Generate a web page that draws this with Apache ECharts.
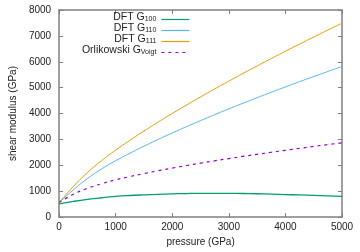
<!DOCTYPE html>
<html>
<head>
<meta charset="utf-8">
<script src="https://cdn.jsdelivr.net/npm/echarts@6/dist/echarts.min.js"></script>
<style>html,body{margin:0;padding:0;background:#fff}#c{width:360px;height:252px}</style>
</head>
<body>
<div id="c"></div>
<script>
const pressure = [0, 250, 500, 750, 1000, 1250, 1500, 1750, 2000, 2250, 2500, 2750, 3000, 3250, 3500, 3750, 4000, 4250, 4500, 4750, 5000];
const g100   = [510, 605, 685, 748, 800, 835, 860, 880, 898, 910, 918, 920, 918, 912, 902, 888, 872, 855, 838, 820, 803];
const g110   = [560, 1050, 1490, 1860, 2180, 2467, 2740, 3000, 3251, 3492, 3728, 3957, 4181, 4399, 4613, 4824, 5029, 5232, 5431, 5627, 5820];
const g111   = [560, 1180, 1720, 2180, 2590, 2967, 3326, 3672, 4005, 4328, 4644, 4953, 5254, 5550, 5840, 6126, 6408, 6683, 6956, 7225, 7490];
const gVoigt = [560, 880, 1110, 1290, 1440, 1566, 1682, 1791, 1894, 1992, 2085, 2175, 2261, 2345, 2426, 2505, 2581, 2656, 2730, 2801, 2867];
const seriesNames = ['DFT G100', 'DFT G110', 'DFT G111', 'Orlikowski GVoigt'];
const legendLabels = {
  'DFT G100': '{m|DFT G}{s|100}',
  'DFT G110': '{m|DFT G}{s|110}',
  'DFT G111': '{m|DFT G}{s|111}',
  'Orlikowski GVoigt': '{m|Orlikowski G}{s|Voigt}'
};
const xTicks = {min: 0, max: 5000, interval: 1000};
const yTicks = {min: 0, max: 8000, interval: 1000};

const FONT = 'Liberation Sans';
const axisCol = '#808080';
function pairs(ys) { return pressure.map((p, i) => [p, ys[i]]); }

const baseAxis = (t) => ({
  type: 'value', min: t.min, max: t.max, interval: t.interval,
  axisLine: {show: true, onZero: false, lineStyle: {color: axisCol, width: 1.5}},
  axisTick: {show: true, inside: true, length: 4, lineStyle: {color: axisCol, width: 1}},
  splitLine: {show: false}
});

const chart = echarts.init(document.getElementById('c'), null, {renderer: 'canvas'});
chart.setOption({
  animation: false,
  backgroundColor: '#fff',
  grid: {left: 55, right: 18, top: 10, bottom: 33},
  legend: {
    orient: 'vertical', align: 'right', right: 170, top: 12, padding: 0,
    itemGap: -4, itemWidth: 28, itemHeight: 14,
    data: seriesNames,
    formatter: n => legendLabels[n],
    itemStyle: {opacity: 0},
    lineStyle: {width: 1.2},
    textStyle: {
      fontFamily: FONT, color: '#222',
      rich: {
        m: {fontFamily: FONT, fontSize: 10.5, lineHeight: 10, padding: [0, 0, 4, 0], color: '#222'},
        s: {fontFamily: FONT, fontSize: 7, lineHeight: 6, verticalAlign: 'bottom', padding: [0, 0, 2, 0], color: '#222'}
      }
    }
  },
  xAxis: [
    Object.assign(baseAxis(xTicks), {
      position: 'bottom',
      name: 'pressure (GPa)', nameLocation: 'middle', nameGap: 17,
      nameTextStyle: {fontFamily: FONT, fontSize: 10, color: '#222'},
      axisLabel: {fontFamily: FONT, fontSize: 10, color: '#222', margin: 5, formatter: v => String(v)}
    }),
    Object.assign(baseAxis(xTicks), {position: 'top', axisLabel: {show: false}})
  ],
  yAxis: [
    Object.assign(baseAxis(yTicks), {
      position: 'left',
      name: 'shear modulus (GPa)', nameLocation: 'middle', nameGap: 40,
      nameTextStyle: {fontFamily: FONT, fontSize: 10, color: '#222'},
      axisLabel: {fontFamily: FONT, fontSize: 10, color: '#222', margin: 8, formatter: v => String(v)}
    }),
    Object.assign(baseAxis(yTicks), {position: 'right', axisLabel: {show: false}})
  ],
  series: [
    {name: seriesNames[0], type: 'line', smooth: 0.5, symbol: 'none', data: pairs(g100),
     lineStyle: {color: '#009e73', width: 1.3}, itemStyle: {color: '#009e73'}},
    {name: seriesNames[1], type: 'line', smooth: 0.5, symbol: 'none', data: pairs(g110),
     lineStyle: {color: '#56b4e9', width: 1}, itemStyle: {color: '#56b4e9'}},
    {name: seriesNames[2], type: 'line', smooth: 0.5, symbol: 'none', data: pairs(g111),
     lineStyle: {color: '#e69f00', width: 1}, itemStyle: {color: '#e69f00'}},
    {name: seriesNames[3], type: 'line', smooth: 0.5, symbol: 'none', data: pairs(gVoigt),
     lineStyle: {color: '#9400d3', width: 1.2, type: [3, 4]}, itemStyle: {color: '#9400d3'}}
  ]
});
</script>
</body>
</html>
